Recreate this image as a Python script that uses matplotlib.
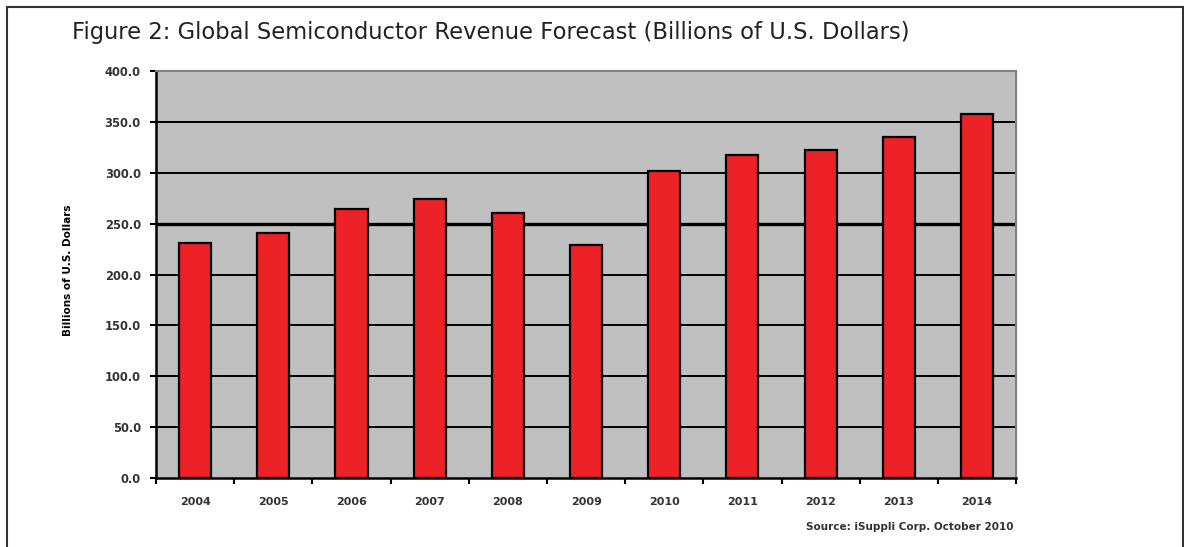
import numpy as np
import matplotlib.pyplot as plt
from matplotlib.patches import Rectangle

# --- Data ---
years = ['2004', '2005', '2006', '2007', '2008', '2009', '2010', '2011', '2012', '2013', '2014']
revenue = [231.0, 240.5, 264.0, 274.0, 260.0, 229.0, 302.0, 317.0, 322.0, 335.5, 358.0]

plt.rcParams['font.family'] = ['DejaVu Sans']

fig = plt.figure(figsize=(11.84, 5.47), dpi=100)
ax = fig.add_axes([0.1318, 0.1261, 0.7264, 0.7441])

x = np.arange(len(years))
ax.bar(x, revenue, width=0.41, color='#ED2226', edgecolor='black', linewidth=1.6, zorder=3)

# --- axes styling ---
ax.set_facecolor('#C0C0C0')
ax.set_xlim(-0.5, len(years) - 0.5)
ax.set_ylim(0, 400)
yt = np.arange(0, 401, 50)
ax.set_yticks(yt)
ax.set_yticklabels([f"{v:.1f}" for v in yt], fontsize=8.3, color='#333333', fontweight='bold')
ax.set_xticks(x)
ax.set_xticklabels(years, fontsize=8, color='#333333', fontweight='bold')
ax.tick_params(axis='x', length=0, pad=14)
ax.set_xticks(np.arange(-0.5, len(years)), minor=True)
ax.tick_params(axis='x', which='minor', length=4, width=1.5, color='black')
ax.tick_params(axis='y', length=4, width=1.5, color='black', pad=7)

for v in yt[1:-1]:
    ax.axhline(v, color='black', linewidth=2.4 if v == 250 else 1.4, zorder=1)

for side in ['top', 'right']:
    ax.spines[side].set_color('#808080')
    ax.spines[side].set_linewidth(1.5)
for side in ['left', 'bottom']:
    ax.spines[side].set_color('black')
    ax.spines[side].set_linewidth(1.8)

ax.set_ylabel("Billions of U.S. Dollars", fontsize=7.5, fontweight='bold')
ax.yaxis.set_label_coords(-0.096, 0.51)

# --- title, source and frame ---
fig.text(72 / 1184, 1 - 33 / 547, "Figure 2: Global Semiconductor Revenue Forecast (Billions of U.S. Dollars)",
         fontsize=16.3, ha='left', va='center', color='#222222')
fig.text(1013 / 1184, 1 - 527 / 547, "Source: iSuppli Corp. October 2010",
         fontsize=7.5, fontweight='bold', ha='right', va='center', color='#333333')
fig.patches.append(Rectangle((7 / 1184, -0.05), 1176 / 1184, 1.05 - 7 / 547,
                             transform=fig.transFigure, fill=False, edgecolor='#333333', linewidth=1.5))

plt.savefig('out.png', dpi=100)
